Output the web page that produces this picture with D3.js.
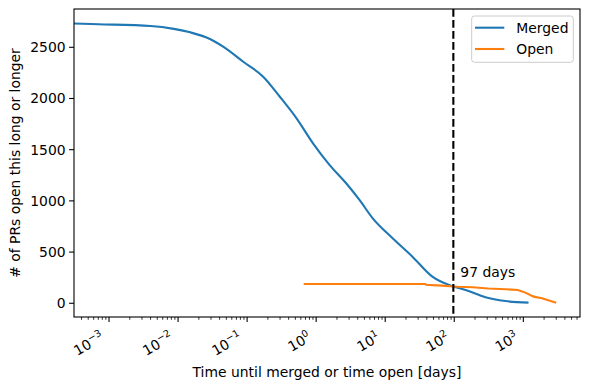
<!DOCTYPE html>
<html>
<head>
<meta charset="utf-8">
<script src="https://cdn.jsdelivr.net/npm/d3@7"></script>
<style>
  body { margin: 0; background: #fff; }
  svg text { font-family: "DejaVu Sans", sans-serif; fill: #000; }
</style>
</head>
<body>
<div id="chart"></div>
<script>
// data: time in days, count of PRs open that long or longer
var merged_days   = [0.0003, 0.0007, 0.004, 0.0087, 0.015, 0.029, 0.045, 0.088, 0.171, 0.298, 0.52, 0.90, 1.57, 2.72, 4.24, 6.6, 12.8, 24.8, 48.2, 91.6, 146, 283, 551, 1190]
var merged_counts = [2732, 2725, 2708, 2680, 2646, 2581, 2506, 2359, 2213, 2017, 1806, 1562, 1350, 1172, 1009, 830, 635, 455, 260, 169, 130, 59, 22, 6]

var open_days   = [0.66, 38, 39, 66, 112, 186, 309, 562, 832, 1072, 1413, 1862, 2990]
var open_counts = [188, 188, 180, 172, 162, 156, 145, 137, 130, 104, 65, 49, 6]

var median_days = 97
var x_ticks = [1e-3, 1e-2, 1e-1, 1e0, 1e1, 1e2, 1e3]
var y_ticks = [0, 500, 1000, 1500, 2000, 2500]

var W = 590, H = 389
var margin = {top: 9, right: 10, bottom: 72, left: 74},
    width = W - margin.left - margin.right,
    height = H - margin.top - margin.bottom

var svg = d3.select("#chart").append("svg")
    .attr("width", W)
    .attr("height", H)

var g = svg.append("g")
    .attr("transform", "translate(" + margin.left + "," + margin.top + ")")

var x = d3.scaleLog()
    .domain([Math.pow(10, -3.507), Math.pow(10, 3.821)])
    .range([0, width])

var y = d3.scaleLinear()
    .domain([-134, 2874])
    .range([height, 0])

g.append("clipPath").attr("id", "clip")
  .append("rect").attr("width", width).attr("height", height)

var line = d3.line()
    .x(function (d) { return x(d[0]) })
    .y(function (d) { return y(d[1]) })

var plot = g.append("g").attr("clip-path", "url(#clip)")

plot.append("path")
    .datum(d3.zip(merged_days, merged_counts))
    .attr("fill", "none")
    .attr("stroke", "#1f77b4")
    .attr("stroke-width", 2.1)
    .attr("d", line.curve(d3.curveMonotoneX))

plot.append("path")
    .datum(d3.zip(open_days, open_counts))
    .attr("fill", "none")
    .attr("stroke", "#ff7f0e")
    .attr("stroke-width", 2.1)
    .attr("d", line.curve(d3.curveLinear))

// median line
plot.append("line")
    .attr("x1", x(median_days)).attr("x2", x(median_days))
    .attr("y1", 0).attr("y2", height)
    .attr("stroke", "#000")
    .attr("stroke-width", 2.1)
    .attr("stroke-dasharray", "7.7,3.3")

g.append("text")
    .attr("x", x(median_days) + 7)
    .attr("y", y(255))
    .style("font-size", "13.9px")
    .text(median_days + " days")

// frame
g.append("rect")
    .attr("width", width).attr("height", height)
    .attr("fill", "none").attr("stroke", "#000").attr("stroke-width", 1.1)

// y axis ticks
var yt = g.append("g")
yt.selectAll("line").data(y_ticks).enter().append("line")
    .attr("x1", -4.9).attr("x2", 0)
    .attr("y1", function (d) { return y(d) }).attr("y2", function (d) { return y(d) })
    .attr("stroke", "#000").attr("stroke-width", 1.1)
yt.selectAll("text").data(y_ticks).enter().append("text")
    .attr("x", -8.4)
    .attr("y", function (d) { return y(d) })
    .attr("dy", "0.36em")
    .attr("text-anchor", "end")
    .style("font-size", "13.9px")
    .text(function (d) { return d })

// x axis ticks, major and minor
var minor = []
for (var e = -4; e <= 3; e++) {
    for (var k = 2; k <= 9; k++) {
        var v = k * Math.pow(10, e)
        if (v >= x.domain()[0] && v <= x.domain()[1]) minor.push(v)
    }
}
var xt = g.append("g").attr("transform", "translate(0," + height + ")")
xt.selectAll("line.minor").data(minor).enter().append("line")
    .attr("class", "minor")
    .attr("x1", function (d) { return x(d) }).attr("x2", function (d) { return x(d) })
    .attr("y1", 0).attr("y2", 2.8)
    .attr("stroke", "#000").attr("stroke-width", 0.8)
xt.selectAll("line.major").data(x_ticks).enter().append("line")
    .attr("class", "major")
    .attr("x1", function (d) { return x(d) }).attr("x2", function (d) { return x(d) })
    .attr("y1", 0).attr("y2", 4.9)
    .attr("stroke", "#000").attr("stroke-width", 1.1)

x_ticks.forEach(function (d) {
    var ex = Math.round(Math.log10(d))
    var t = xt.append("text")
        .attr("text-anchor", "end")
        .attr("transform", "translate(" + (x(d) - 4) + ",23) rotate(-30)")
        .style("font-size", "13.9px")
    t.append("tspan").text("10")
    t.append("tspan")
        .attr("dy", -6)
        .style("font-size", "9.7px")
        .text(String(ex).replace("-", "\u2212"))
})

// axis labels
svg.append("text")
    .attr("text-anchor", "middle")
    .attr("x", margin.left + width / 2)
    .attr("y", 376.5)
    .style("font-size", "13.9px")
    .text("Time until merged or time open [days]")

svg.append("text")
    .attr("text-anchor", "middle")
    .attr("transform", "translate(20," + (margin.top + height / 2) + ") rotate(-90)")
    .style("font-size", "13.9px")
    .text("# of PRs open this long or longer")

// legend
var lg = g.append("g").attr("transform", "translate(" + (471.7 - margin.left) + "," + (16 - margin.top) + ")")
lg.append("rect")
    .attr("width", 101.6).attr("height", 46.3)
    .attr("rx", 2.8)
    .attr("fill", "#fff").attr("fill-opacity", 0.8)
    .attr("stroke", "#ccc").attr("stroke-width", 1)
var items = [["Merged", "#1f77b4"], ["Open", "#ff7f0e"]]
items.forEach(function (it, i) {
    var yy = 11.7 + i * 21.3
    lg.append("line")
        .attr("x1", 3.3).attr("x2", 32.6)
        .attr("y1", yy).attr("y2", yy)
        .attr("stroke", it[1]).attr("stroke-width", 2.1)
    lg.append("text")
        .attr("x", 44.6).attr("y", yy).attr("dy", "0.36em")
        .style("font-size", "13.9px")
        .text(it[0])
})
</script>
</body>
</html>
